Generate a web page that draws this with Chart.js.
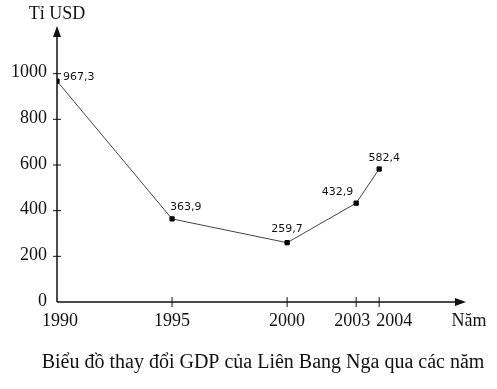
<!DOCTYPE html>
<html>
<head>
<meta charset="utf-8">
<script src="https://cdn.jsdelivr.net/npm/chart.js@4/dist/chart.umd.min.js"></script>
<style>
    html, body { margin: 0; padding: 0; background: #fff; }
</style>
</head>
<body>
<canvas id="chartGDP" width="497" height="389"></canvas>
<script>
// data
const years = [1990, 1995, 2000, 2003, 2004];
const gdp = [967.3, 363.9, 259.7, 432.9, 582.4];
const gdpLabels = ['967,3', '363,9', '259,7', '432,9', '582,4'];
const yTicks = [0, 200, 400, 600, 800, 1000];
const xTicks = [1990, 1995, 2000, 2003, 2004];

// where each value label sits relative to its point
const labelPos = [
    { dx: 6, dy: -4, align: 'left' },
    { dx: -2, dy: -12, align: 'left' },
    { dx: 0, dy: -14, align: 'center' },
    { dx: -3, dy: -11, align: 'right' },
    { dx: 5, dy: -11, align: 'center' }
];
// small horizontal shifts so close year labels don't collide
const xLabelShift = { 1990: 3, 2003: -4, 2004: 15 };

const serif = '"Liberation Serif", "DejaVu Serif", serif';

const axesPlugin = {
    id: 'axesPlugin',
    afterDatasetsDraw(chart) {
        const ctx = chart.ctx;
        const xs = chart.scales.x, ys = chart.scales.y;
        const x0 = xs.getPixelForValue(1990);
        const y0 = ys.getPixelForValue(0);
        const yTop = chart.chartArea.top;
        const xEnd = chart.chartArea.right;
        ctx.save();
        ctx.strokeStyle = '#111';
        ctx.fillStyle = '#111';
        ctx.lineWidth = 1.5;
        // axis lines
        ctx.beginPath();
        ctx.moveTo(x0, y0);
        ctx.lineTo(x0, yTop + 4);
        ctx.moveTo(x0, y0);
        ctx.lineTo(xEnd - 4, y0);
        ctx.stroke();
        // arrows
        ctx.beginPath();
        ctx.moveTo(x0, yTop - 2);
        ctx.lineTo(x0 - 4, yTop + 9);
        ctx.lineTo(x0 + 4, yTop + 9);
        ctx.closePath();
        ctx.fill();
        ctx.beginPath();
        ctx.moveTo(xEnd + 4, y0);
        ctx.lineTo(xEnd - 7, y0 - 4);
        ctx.lineTo(xEnd - 7, y0 + 4);
        ctx.closePath();
        ctx.fill();
        // y ticks
        ctx.lineWidth = 1;
        ctx.font = '18px ' + serif;
        ctx.textAlign = 'right';
        ctx.textBaseline = 'middle';
        yTicks.forEach(v => {
            const py = ys.getPixelForValue(v);
            if (v > 0) {
                ctx.beginPath();
                ctx.moveTo(x0 - 4, py);
                ctx.lineTo(x0 + 4, py);
                ctx.stroke();
            }
            ctx.fillText(String(v), x0 - 10, py - 1);
        });
        // x ticks
        ctx.textAlign = 'center';
        ctx.textBaseline = 'top';
        xTicks.forEach(v => {
            const px = xs.getPixelForValue(v);
            if (v !== 1990) {
                ctx.beginPath();
                ctx.moveTo(px, y0 - 5);
                ctx.lineTo(px, y0 + 5);
                ctx.stroke();
            }
            ctx.fillText(String(v), px + (xLabelShift[v] || 0), y0 + 10);
        });
        ctx.fillText('Năm', xEnd + 7, y0 + 10);
        // unit
        ctx.textBaseline = 'alphabetic';
        ctx.fillText('Tỉ USD', x0, 19);
        // value labels
        const meta = chart.getDatasetMeta(0);
        ctx.font = '11px "DejaVu Sans", sans-serif';
        ctx.textBaseline = 'middle';
        meta.data.forEach((pt, i) => {
            const p = labelPos[i];
            ctx.textAlign = p.align;
            ctx.fillText(gdpLabels[i], pt.x + p.dx, pt.y + p.dy);
        });
        // caption
        ctx.font = '20px ' + serif;
        ctx.textAlign = 'center';
        ctx.textBaseline = 'alphabetic';
        ctx.fillText('Biểu đồ thay đổi GDP của Liên Bang Nga qua các năm', 263, 368);
        ctx.restore();
    }
};

new Chart(document.getElementById('chartGDP'), {
    type: 'line',
    data: {
        datasets: [{
            data: years.map((y, i) => ({ x: y, y: gdp[i] })),
            borderColor: '#444',
            borderWidth: 1,
            pointStyle: 'rect',
            pointRadius: 3,
            pointBackgroundColor: '#000',
            pointBorderColor: '#000',
            tension: 0
        }]
    },
    options: {
        responsive: false,
        animation: false,
        layout: { padding: { left: 57, right: 35, top: 28, bottom: 87 } },
        scales: {
            x: { type: 'linear', min: 1990, max: 2007.6, display: false },
            y: { min: 0, max: 1200, display: false }
        },
        plugins: {
            legend: { display: false },
            tooltip: { enabled: false }
        }
    },
    plugins: [axesPlugin]
});
</script>
</body>
</html>
